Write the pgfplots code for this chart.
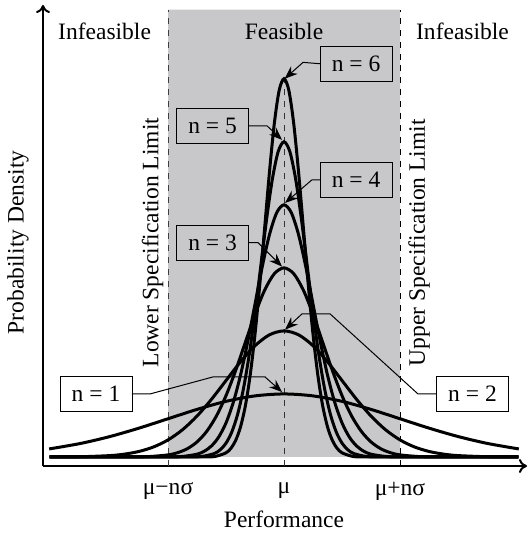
\documentclass[border=0pt]{standalone}
\usepackage{fontspec}
\setmainfont{Liberation Serif}
\usepackage{pgfplots}
\pgfplotsset{compat=1.18}
\usetikzlibrary{arrows.meta}
\definecolor{feas}{RGB}{200,200,202}
\begin{document}
\fontsize{11.8}{14}\selectfont
\begin{tikzpicture}
\useasboundingbox (-21.5bp,-34bp) rectangle (242.5bp,233bp);
\begin{axis}[
 at={(0,0)}, anchor=south west,
 scale only axis, width=242bp, height=230.5bp,
 xmin=-2.078, xmax=2.095, ymin=-0.143, ymax=7.17,
 axis lines=left,
 axis line style={line width=1bp, -{To[length=4bp,width=7bp]}},
 xtick={-1,0,1}, xticklabels={μ−nσ,μ,μ+nσ},
 ytick=\empty, major tick length=0,
 xticklabel style={yshift=-4bp, font=\fontsize{11.8}{14}\selectfont},
 xlabel={Performance},
 xlabel style={at={(axis description cs:0.498,0)}, anchor=north, yshift=-18.5bp},
 ylabel={Probability Density},
 ylabel style={at={(axis description cs:0,0.485)}, anchor=center, yshift=12.5bp},
 clip=false,
 curve/.style={black, solid, mark=none, smooth, line width=1.5bp},
]
% feasible region
\addplot[fill=feas, draw=none, sharp plot, mark=none] coordinates {(-1,-0.143) (-1,7.095) (1,7.095) (1,-0.143)} \closedcycle;
\addplot[line width=0.5bp, dashed, sharp plot, mark=none, black!75] coordinates {(-1,-0.143) (-1,7.095)};
\addplot[line width=0.5bp, dashed, sharp plot, mark=none, black] coordinates {(1,-0.143) (1,7.095)};
\addplot[line width=0.5bp, dashed, sharp plot, mark=none, black!80] coordinates {(0,-0.143) (0,6.0)};
% n = 1
\addplot[curve] coordinates {(-2.02,0.1300) (-2,0.1353) (-1.75,0.2163) (-1.5,0.3247) (-1.25,0.4578) (-1,0.6065) (-0.75,0.7548) (-0.5,0.8825) (-0.25,0.9692) (0,1) (0.25,0.9692) (0.5,0.8825) (0.75,0.7548) (1,0.6065) (1.25,0.4578) (1.5,0.3247) (1.75,0.2163) (2,0.1353) (2.02,0.1300)};
% n = 2
\addplot[curve] coordinates {(-2.02,0.0006) (-1.75,0.0044) (-1.5,0.0222) (-1.375,0.0456) (-1.25,0.0879) (-1.125,0.1591) (-1,0.2707) (-0.875,0.4325) (-0.75,0.6493) (-0.625,0.9157) (-0.5,1.2131) (-0.375,1.5097) (-0.25,1.7650) (-0.125,1.9385) (0,2) (0.125,1.9385) (0.25,1.7650) (0.375,1.5097) (0.5,1.2131) (0.625,0.9157) (0.75,0.6493) (0.875,0.4325) (1,0.2707) (1.125,0.1591) (1.25,0.0879) (1.375,0.0456) (1.5,0.0222) (1.75,0.0044) (2.02,0.0006)};
% n = 3
\addplot[curve] coordinates {(-2.02,0) (-1.7,0) (-1.3333,0.0010) (-1.1667,0.0066) (-1,0.0333) (-0.9167,0.0684) (-0.8333,0.1318) (-0.75,0.2387) (-0.6667,0.4060) (-0.5833,0.6488) (-0.5,0.9740) (-0.4167,1.3735) (-0.3333,1.8196) (-0.25,2.2645) (-0.1667,2.6475) (-0.0833,2.9077) (0,3) (0.0833,2.9077) (0.1667,2.6475) (0.25,2.2645) (0.3333,1.8196) (0.4167,1.3735) (0.5,0.9740) (0.5833,0.6488) (0.6667,0.4060) (0.75,0.2387) (0.8333,0.1318) (0.9167,0.0684) (1,0.0333) (1.1667,0.0066) (1.3333,0.0010) (1.7,0) (2.02,0)};
% n = 4
\addplot[curve] coordinates {(-2.02,0) (-1.5,0) (-1,0.0013) (-0.875,0.0088) (-0.75,0.0444) (-0.6875,0.0912) (-0.625,0.1758) (-0.5625,0.3182) (-0.5,0.5414) (-0.4375,0.8651) (-0.375,1.2986) (-0.3125,1.8313) (-0.25,2.4261) (-0.1875,3.0194) (-0.125,3.5300) (-0.0625,3.8769) (0,4) (0.0625,3.8769) (0.125,3.5300) (0.1875,3.0194) (0.25,2.4261) (0.3125,1.8313) (0.375,1.2986) (0.4375,0.8651) (0.5,0.5414) (0.5625,0.3182) (0.625,0.1758) (0.6875,0.0912) (0.75,0.0444) (0.875,0.0088) (1,0.0013) (1.5,0) (2.02,0)};
% n = 5
\addplot[curve] coordinates {(-2.02,0) (-1.3,0) (-0.8,0.0017) (-0.7,0.0110) (-0.6,0.0556) (-0.55,0.1140) (-0.5,0.2197) (-0.45,0.3978) (-0.4,0.6767) (-0.35,1.0814) (-0.3,1.6233) (-0.25,2.2892) (-0.2,3.0327) (-0.15,3.7742) (-0.1,4.4125) (-0.05,4.8462) (0,5) (0.05,4.8462) (0.1,4.4125) (0.15,3.7742) (0.2,3.0327) (0.25,2.2892) (0.3,1.6233) (0.35,1.0814) (0.4,0.6767) (0.45,0.3978) (0.5,0.2197) (0.55,0.1140) (0.6,0.0556) (0.7,0.0110) (0.8,0.0017) (1.3,0) (2.02,0)};
% n = 6
\addplot[curve] coordinates {(-2.02,0) (-1.2,0) (-0.6667,0.0020) (-0.5833,0.0131) (-0.5,0.0667) (-0.4583,0.1367) (-0.4167,0.2636) (-0.375,0.4774) (-0.3333,0.8120) (-0.2917,1.2976) (-0.25,1.9479) (-0.2083,2.7470) (-0.1667,3.6392) (-0.125,4.5290) (-0.0833,5.2950) (-0.0417,5.8154) (0,6) (0.0417,5.8154) (0.0833,5.2950) (0.125,4.5290) (0.1667,3.6392) (0.2083,2.7470) (0.25,1.9479) (0.2917,1.2976) (0.3333,0.8120) (0.375,0.4774) (0.4167,0.2636) (0.4583,0.1367) (0.5,0.0667) (0.5833,0.0131) (0.6667,0.0020) (1.2,0) (2.02,0)};
% region labels
\node at (axis cs:-1.547,6.75) {Infeasible};
\node at (axis cs:0,6.75) {Feasible};
\node at (axis cs:1.539,6.75) {Infeasible};
\node[rotate=90] at (axis cs:-1.134,3.40) {Lower Specification Limit};
\node[rotate=90] at (axis cs:1.164,3.40) {Upper Specification Limit};
% annotation boxes
\tikzset{nbox/.style={draw, line width=0.5bp, minimum width=36bp, minimum height=17.5bp, inner sep=0pt},
         narr/.style={line width=0.5bp, -{Stealth[length=6.5bp,width=5bp]}}}
\node[nbox] at (axis cs:0.621,6.238) {n = 6};
\node[nbox] at (axis cs:-0.616,5.254) {n = 5};
\node[nbox] at (axis cs:0.621,4.397) {n = 4};
\node[nbox] at (axis cs:-0.616,3.40) {n = 3};
\node[nbox] at (axis cs:1.625,1.0) {n = 2};
\node[nbox] at (axis cs:-1.621,1.0) {n = 1};
\draw[narr] (axis cs:0.310,6.238) -- (axis cs:0.164,6.26) -- (axis cs:0.005,6.0);
\draw[narr] (axis cs:-0.310,5.254) -- (axis cs:-0.147,5.254) -- (axis cs:-0.017,5.03);
\draw[narr] (axis cs:0.310,4.397) -- (axis cs:0.241,4.397) -- (axis cs:0.009,4.03);
\draw[narr] (axis cs:-0.310,3.40) -- (axis cs:-0.224,3.40) -- (axis cs:-0.017,3.02);
\draw[narr] (axis cs:1.315,1.0) -- (axis cs:1.155,1.0) -- (axis cs:0.397,2.27) -- (axis cs:0.155,2.27) -- (axis cs:0.009,2.02);
\draw[narr] (axis cs:-1.311,1.0) -- (axis cs:-1.155,1.0) -- (axis cs:-0.612,1.27) -- (axis cs:-0.164,1.27) -- (axis cs:-0.017,1.03);
\end{axis}
\end{tikzpicture}
\end{document}
